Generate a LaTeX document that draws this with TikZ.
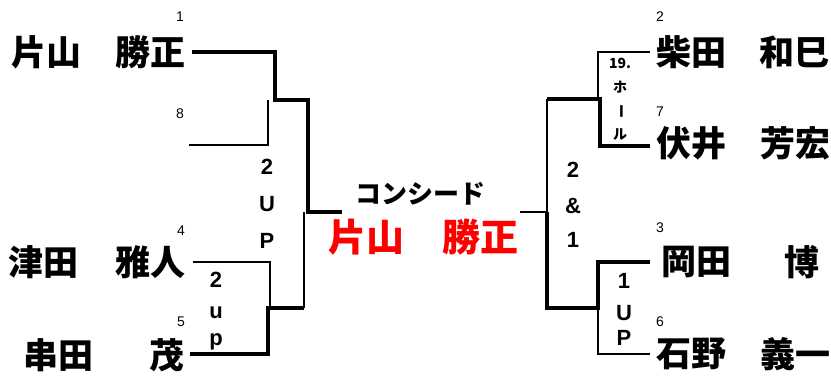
\documentclass[tikz,border=0pt]{standalone}
\usepackage{fontspec}
\setmainfont{Liberation Sans}
\newfontfamily\jp{Noto Sans CJK JP}
\begin{document}
\begin{tikzpicture}[x=1pt,y=-1pt,
  thickline/.style={line width=4pt, line join=miter},
  thinline/.style={line width=1.3pt, line join=miter},
  midline/.style={line width=2.4pt},
  namefam/.style={font=\jp\bfseries\fontsize{35}{35}\selectfont, inner sep=0pt, anchor=west},
  namegiv/.style={font=\jp\bfseries\fontsize{35}{35}\selectfont, inner sep=0pt, anchor=east},
  seed/.style={font=\fontsize{14}{14}\selectfont, inner sep=0pt},
  res/.style={font=\bfseries\fontsize{22}{22}\selectfont, inner sep=0pt},
  smallres/.style={font=\jp\bfseries\fontsize{14}{14}\selectfont, inner sep=0pt},
]
\useasboundingbox (0,0) rectangle (831,376);

% names left
\node[namefam] (f1) at (11,52) {片山};
\node[namegiv] (g1) at (186,52) {勝正};
\node[namefam] (f4) at (8,262) {津田};
\node[namegiv] (g4) at (186,262) {雅人};
\node[namefam] (f5) at (23,355) {串田};
\node[namegiv] (g5) at (185,355) {茂};
% names right
\node[namefam] (f2) at (656,52) {柴田};
\node[namegiv] (g2) at (830,52) {和巳};
\node[namefam] (f7) at (656,143) {伏井};
\node[namegiv] (g7) at (831,143) {芳宏};
\node[namefam] (f3) at (661,262) {岡田};
\node[namegiv] (g3) at (820,262) {博};
\node[namefam] (f6) at (656,354) {石野};
\node[namegiv] (g6) at (831,354) {義一};

% seeds
\node[seed] (s1) at (180,17) {1};
\node[seed] (s8) at (180,114) {8};
\node[seed] (s4) at (181,231) {4};
\node[seed] (s5) at (181,322) {5};
\node[seed] (s2) at (660,17) {2};
\node[seed] (s7) at (660,112) {7};
\node[seed] (s3) at (660,228) {3};
\node[seed] (s6) at (660,322) {6};

% center
\node[font=\jp\bfseries\fontsize{26}{26}\selectfont, inner sep=0pt] (con) at (420,194) {コンシード};
\node[font=\jp\bfseries\fontsize{38}{38}\selectfont, inner sep=0pt, text=red] (champ) at (423,237) {片山　勝正};

% coordinates
\coordinate (a1) at (192,52);
\coordinate (a8) at (189,145);
\coordinate (a4) at (193,262);
\coordinate (a5) at (190,354);
\coordinate (b2) at (650,52);
\coordinate (b7) at (650,146);
\coordinate (b3) at (650,262);
\coordinate (b6) at (650,354);
\coordinate (cl) at (342,212);
\coordinate (cr) at (520,212);

% left bracket
\draw[thickline] (a1) -| (275,100) -- (308,100) -- (308,212) -- (cl);
\draw[thinline] (a8) -| (268,100);
\draw[thinline] (a4) -| (270,308);
\draw[thickline] (a5) -| (268,308) -- (304,308);
\draw[thinline] (304,308) -- (304,212);

% right bracket
\draw[thinline] (cr) -- (547,212);
\draw[midline] (547,213) -- (547,99);
\draw[thickline] (547,99) -- (600,99) -- (600,146) -- (b7);
\draw[thinline] (b2) -- (598,52) -- (598,99);
\draw[thickline] (547,212) -- (547,308) -- (598,308) -- (598,262) -- (b3);
\draw[thinline] (598,308) -- (598,354) -- (b6);

% results left
\node[res] at (267,167) {2};
\node[res] at (267,204) {U};
\node[res] at (267,241) {P};
\node[res] at (216,280) {2};
\node[res] at (216,313) {u};
\node[res] at (216,342) {p};
% results right
\node[res] at (573,170) {2};
\node[res] at (573,206) {\&};
\node[res] at (573,240) {1};
\node[res] at (624,281) {1};
\node[res] at (624,313) {U};
\node[res] at (624,338) {P};
\node[smallres] at (620,63) {19.};
\node[smallres] at (620,87) {ホ};
\node[smallres, rotate=-90] at (620,111) {ー};
\node[smallres] at (620,135) {ル};
\end{tikzpicture}
\end{document}
